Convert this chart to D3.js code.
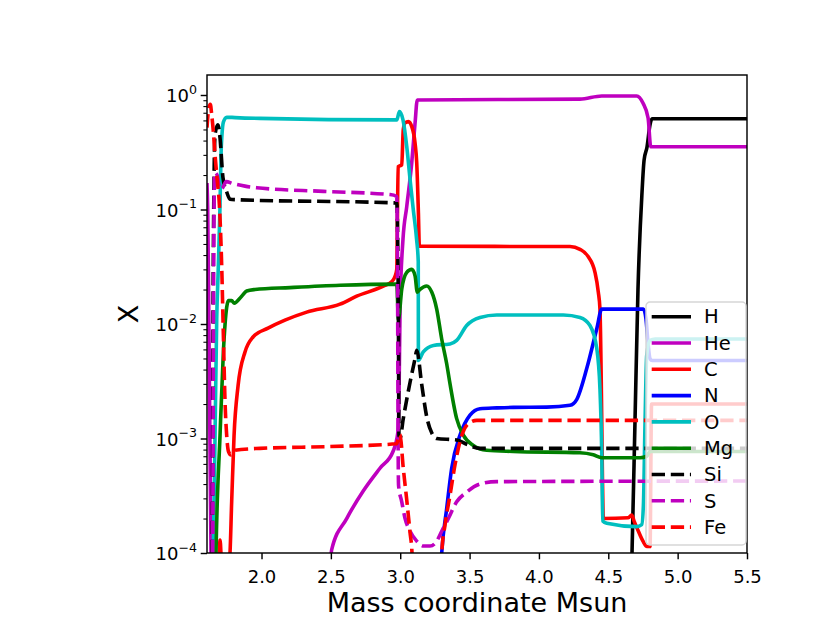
<!DOCTYPE html>
<html>
<head>
<meta charset="utf-8">
<script src="https://cdn.jsdelivr.net/npm/d3@7"></script>
<style>
    body { margin: 0; background: #fff; }
    svg { display: block; }
    text { font-family: "DejaVu Sans", sans-serif; fill: #000; }
</style>
</head>
<body>
<div id="abundance-chart"></div>
<script>
// mass coordinate (Msun) and mass fraction X, one pair of arrays per species
const massH  = [4.600, 4.671, 4.693, 4.714, 4.743, 4.758, 4.779, 4.801, 4.815, 5.500];
const fracH  = [1e-6, 1.0e-4, 1.5e-3, 0.020, 0.14, 0.27, 0.35, 0.55, 0.62, 0.62];

const massHe = [1.607, 1.612, 1.620, 1.628, 1.636, 1.645, 2.480, 2.506, 2.614, 2.732, 2.854, 2.948, 2.984, 2.991,
                2.999, 3.020, 3.047, 3.083, 3.107, 3.123, 4.296, 4.453, 4.705, 4.750, 4.787, 4.806, 5.500];
const fracHe = [0.17, 0.10, 0.012, 1.0e-3, 1.0e-4, 1e-5, 5e-5, 1.07e-4, 2.0e-4, 3.46e-4, 5.5e-4, 7.7e-4, 1.15e-3, 2.2e-3,
                0.0144, 0.055, 0.106, 0.256, 0.57, 0.905, 0.92, 0.98, 0.98, 0.85, 0.63, 0.353, 0.353];

const massC  = [1.607, 1.690, 1.701, 1.713, 1.745, 1.770, 1.785, 1.802, 1.831, 1.881, 1.939, 2.047, 2.169, 2.326,
                2.566, 2.686, 2.878, 2.940, 2.962, 2.975, 2.985, 3.011, 3.022, 3.035, 3.059, 3.083, 3.107, 3.119,
                3.131, 3.138, 4.224, 4.296, 4.354, 4.404, 4.428, 4.440, 4.451, 4.458, 4.464, 4.644, 4.669, 4.686,
                4.717, 4.750, 4.779, 4.801, 4.812, 5.500];
const fracC  = [1e-6, 5e-5, 1.3e-4, 8e-5, 8e-5, 9e-5, 2.83e-4, 1.06e-3, 2.89e-3, 5.7e-3, 7.7e-3, 9.2e-3, 0.0108, 0.0127,
                0.0149, 0.0175, 0.0214, 0.0235, 0.026, 0.030, 0.236, 0.246, 0.50, 0.57, 0.586, 0.53, 0.38, 0.256,
                0.094, 0.0477, 0.0475, 0.0449, 0.039, 0.0283, 0.019, 0.0135, 2.2e-3, 4.5e-4, 2.0e-4, 2.03e-4, 2.15e-4, 1.9e-4,
                1.55e-4, 1.27e-4, 1.14e-4, 1.14e-4, 2.0e-3, 2.0e-3];

const massN  = [3.200, 3.285, 3.299, 3.335, 3.371, 3.431, 3.503, 3.575, 3.696, 3.815, 4.056, 4.224, 4.273, 4.345,
                4.417, 4.453, 4.753, 4.772, 4.787, 4.801, 4.816, 5.500];
const fracN  = [1e-6, 5e-5, 1.0e-4, 2.45e-4, 5.5e-4, 1.07e-3, 1.6e-3, 1.82e-3, 1.85e-3, 1.87e-3, 1.88e-3, 1.95e-3, 2.2e-3, 4.1e-3,
                9.1e-3, 0.0135, 0.0135, 0.011, 6.7e-3, 4.97e-3, 4.8e-3, 4.8e-3];

const massO  = [1.607, 1.643, 1.652, 1.665, 1.677, 1.688, 1.701, 1.708, 1.715, 1.725, 1.749, 1.809, 1.989, 2.975,
                2.994, 3.020, 3.047, 3.071, 3.094, 3.118, 3.130, 3.131, 3.166, 3.239, 3.359, 3.407, 3.479, 3.575,
                3.696, 4.176, 4.296, 4.368, 4.417, 4.440, 4.453, 4.460, 4.489, 4.705, 4.741, 4.753, 4.765, 4.777,
                4.801, 4.837, 5.500];
const fracO  = [1e-6, 5e-5, 1.0e-4, 1.06e-3, 0.011, 0.030, 0.11, 0.30, 0.45, 0.58, 0.64, 0.635, 0.625, 0.606,
                0.716, 0.606, 0.355, 0.182, 0.10, 0.055, 0.035, 4.8e-3, 5.7e-3, 6.5e-3, 6.7e-3, 7.2e-3, 9.7e-3, 0.0114,
                0.012, 0.012, 0.0114, 9.7e-3, 6.1e-3, 2.7e-3, 7.2e-4, 1.9e-4, 1.82e-4, 1.7e-4, 1.77e-4, 2.6e-4, 1.4e-3, 5.3e-3,
                7.2e-3, 7.4e-3, 7.4e-3];

const massMg = [1.607, 1.665, 1.672, 1.701, 1.725, 1.749, 1.761, 1.785, 1.802, 1.857, 1.893, 1.953, 2.205, 2.566,
                2.975, 2.987, 3.011, 3.047, 3.083, 3.107, 3.123, 3.143, 3.191, 3.227, 3.263, 3.299, 3.335, 3.359,
                3.407, 3.455, 3.527, 3.624, 3.815, 4.296, 4.392, 4.453, 4.729, 4.777, 4.801, 5.500];
const fracMg = [1e-6, 3e-5, 1.0e-4, 1.07e-3, 5.7e-3, 0.014, 0.016, 0.016, 0.0152, 0.0175, 0.0194, 0.020, 0.0208, 0.0218,
                0.0223, 0.011, 0.0201, 0.0282, 0.030, 0.0263, 0.019, 0.0201, 0.0215, 0.019, 0.0135, 7.4e-3, 4.5e-3, 3.0e-3,
                1.49e-3, 1.07e-3, 8.7e-4, 7.9e-4, 7.7e-4, 7.5e-4, 7.2e-4, 6.8e-4, 6.8e-4, 7.0e-4, 7.7e-4, 7.7e-4];

const massSi = [1.636, 1.645, 1.652, 1.665, 1.686, 1.701, 1.722, 1.751, 1.773, 1.809, 2.975, 2.986, 2.991, 2.998,
                3.022, 3.071, 3.107, 3.119, 3.155, 3.191, 3.227, 3.263, 3.407, 3.479, 3.575, 5.500];
const fracSi = [1e-5, 1.0e-4, 0.03, 0.45, 0.55, 0.42, 0.19, 0.14, 0.123, 0.122, 0.114, 0.0164, 1.07e-3, 1.0e-3,
                1.49e-3, 3.1e-3, 5.0e-3, 5.9e-3, 2.96e-3, 1.55e-3, 1.12e-3, 1.0e-3, 9.7e-4, 8.9e-4, 8.2e-4, 8.2e-4];

const massS  = [1.640, 1.648, 1.652, 1.656, 1.662, 1.680, 1.700, 1.720, 1.745, 1.797, 1.881, 1.965, 2.446, 2.926,
                2.975, 2.981, 2.985, 2.988, 3.011, 3.035, 3.071, 3.119, 3.167, 3.215, 3.263, 3.299, 3.347, 3.407,
                3.479, 3.575, 3.696, 5.500];
const fracS  = [1e-5, 1.0e-4, 3e-3, 0.05, 0.21, 0.20, 0.15, 0.155, 0.175, 0.168, 0.16, 0.155, 0.144, 0.135,
                0.13, 0.02, 8.2e-4, 3.9e-4, 2.8e-4, 2.0e-4, 1.55e-4, 1.27e-4, 1.15e-4, 1.15e-4, 1.27e-4, 1.55e-4, 2.0e-4, 2.8e-4,
                3.4e-4, 4.0e-4, 4.2e-4, 4.25e-4];

const massFe = [1.607, 1.618, 1.631, 1.641, 1.652, 1.665, 1.681, 1.696, 1.713, 1.725, 1.737, 1.749, 1.762, 1.780,
                1.809, 1.989, 2.494, 2.975, 2.985, 2.998, 3.022, 3.047, 3.071, 3.085, 3.099, 3.280, 3.299, 3.323,
                3.359, 3.395, 3.431, 3.479, 3.552, 5.500];
const fracFe = [0.52, 0.74, 0.83, 0.67, 0.49, 0.30, 0.178, 0.111, 0.032, 8.0e-3, 2.1e-3, 1.06e-3, 7.7e-4, 7.2e-4,
                7.9e-4, 8.2e-4, 8.5e-4, 9.0e-4, 1.0e-3, 1.08e-3, 5.5e-4, 2.9e-4, 1.5e-4, 1.0e-4, 3e-5, 3e-5, 1.0e-4, 1.76e-4,
                3.2e-4, 5.9e-4, 9.4e-4, 1.3e-3, 1.44e-3, 1.44e-3];

const species = ["H", "He", "C", "N", "O", "Mg", "Si", "S", "Fe"];
const xTicks = [2.0, 2.5, 3.0, 3.5, 4.0, 4.5, 5.0, 5.5];
const yTicks = [1e-4, 1e-3, 1e-2, 1e-1, 1e0];
const yTickExp = ["\u22124", "\u22123", "\u22122", "\u22121", "0"];

const masses = [massH, massHe, massC, massN, massO, massMg, massSi, massS, massFe];
const fracs = [fracH, fracHe, fracC, fracN, fracO, fracMg, fracSi, fracS, fracFe];
const colors = ["#000000", "#bf00bf", "#ff0000", "#0000ff", "#00bfbf", "#008000", "#000000", "#bf00bf", "#ff0000"];
const dashed = [false, false, false, false, false, false, true, true, true];

const series = species.map((name, i) => ({
    name: name,
    points: d3.zip(masses[i], fracs[i]),
    color: colors[i],
    dash: dashed[i] ? "13.3,5.8" : null
}));

const margin = { top: 75, right: 83, bottom: 70, left: 207 };
const width = 830 - margin.left - margin.right;
const height = 623 - margin.top - margin.bottom;
const lw = 3.6;

const svg = d3.select('#abundance-chart')
    .append('svg')
    .attr('width', 830)
    .attr('height', 623);

svg.append('defs').append('clipPath')
    .attr('id', 'plot-clip')
    .append('rect')
    .attr('width', width)
    .attr('height', height);

const g = svg.append('g')
    .attr('transform', `translate(${margin.left}, ${margin.top})`);

const x = d3.scaleLinear()
    .domain([1.607, 5.5])
    .range([0, width]);

const y = d3.scaleLog()
    .domain([1e-4, Math.pow(10, 20 / 114.5)])
    .range([height, 0]);

const line = d3.line()
    .x(d => x(d[0]))
    .y(d => y(d[1]))
    .curve(d3.curveMonotoneX);

const plot = g.append('g').attr('clip-path', 'url(#plot-clip)');

plot.selectAll('.species')
    .data(series)
    .enter()
    .append('path')
    .attr('class', 'species')
    .attr('d', d => line(d.points))
    .attr('fill', 'none')
    .attr('stroke', d => d.color)
    .attr('stroke-width', lw)
    .attr('stroke-linejoin', 'round')
    .attr('stroke-dasharray', d => d.dash);

// x axis
const xAxis = g.append('g')
    .attr('transform', `translate(0,${height})`)
    .call(d3.axisBottom(x).tickValues(xTicks).tickSize(6.3).tickFormat(d3.format('.1f')));
xAxis.select('.domain').remove();
xAxis.selectAll('line').attr('stroke-width', 1.44);
xAxis.selectAll('text')
    .attr('y', 30)
    .attr('dy', null)
    .style('font-size', '18px')
    .style('font-family', '"DejaVu Sans", sans-serif');

// y axis, log minor ticks first
const minorTicks = [];
for (let e = -4; e <= 0; e++) {
    for (let k = 2; k <= 9; k++) {
        const v = k * Math.pow(10, e);
        if (v < y.domain()[1]) minorTicks.push(v);
    }
}
const yMinor = g.append('g')
    .call(d3.axisLeft(y).tickValues(minorTicks).tickSize(3.6).tickFormat(''));
yMinor.select('.domain').remove();
yMinor.selectAll('line').attr('stroke-width', 1.08);

const yAxis = g.append('g')
    .call(d3.axisLeft(y).tickValues(yTicks).tickSize(6.3).tickPadding(3.7).tickFormat(''));
yAxis.select('.domain').remove();
yAxis.selectAll('line').attr('stroke-width', 1.44);
yAxis.selectAll('.tick text')
    .attr('dy', 6.7)
    .style('font-size', '18px')
    .style('font-family', '"DejaVu Sans", sans-serif')
    .each(function (d) {
        const t = d3.select(this);
        t.append('tspan').text('10');
        t.append('tspan')
            .attr('dy', -8.7)
            .style('font-size', '12.6px')
            .text(yTickExp[yTicks.indexOf(d)]);
    });

// frame
g.append('rect')
    .attr('width', width)
    .attr('height', height)
    .attr('fill', 'none')
    .attr('stroke', '#000')
    .attr('stroke-width', 1.44);

svg.append('text')
    .attr('x', margin.left + width / 2)
    .attr('y', 612)
    .style('text-anchor', 'middle')
    .style('font-size', '27px')
    .text('Mass coordinate Msun');

svg.append("text")
    .attr("transform", `translate(138, ${margin.top + height / 2}) rotate(-90)`)
    .style("text-anchor", "middle")
    .style('font-size', '27px')
    .text("X");

// legend
const legend = svg.append('g').attr('transform', 'translate(646, 302)');
legend.append('rect')
    .attr('width', 100)
    .attr('height', 243)
    .attr('rx', 4)
    .attr('fill', '#fff')
    .attr('fill-opacity', 0.8)
    .attr('stroke', '#d6d6d6')
    .attr('stroke-width', 1.44);

const rows = legend.selectAll('.legend-row')
    .data(series)
    .enter()
    .append('g')
    .attr('class', 'legend-row')
    .attr('transform', (d, i) => `translate(0, ${14.7 + i * 26.3})`);

rows.append('line')
    .attr('x1', 5.7)
    .attr('x2', 45)
    .attr('stroke', d => d.color)
    .attr('stroke-width', lw)
    .attr('stroke-dasharray', d => d.dash);

rows.append('text')
    .attr('x', 58)
    .attr('y', 6.7)
    .style('font-size', '19.5px')
    .text(d => d.name);
</script>
</body>
</html>
